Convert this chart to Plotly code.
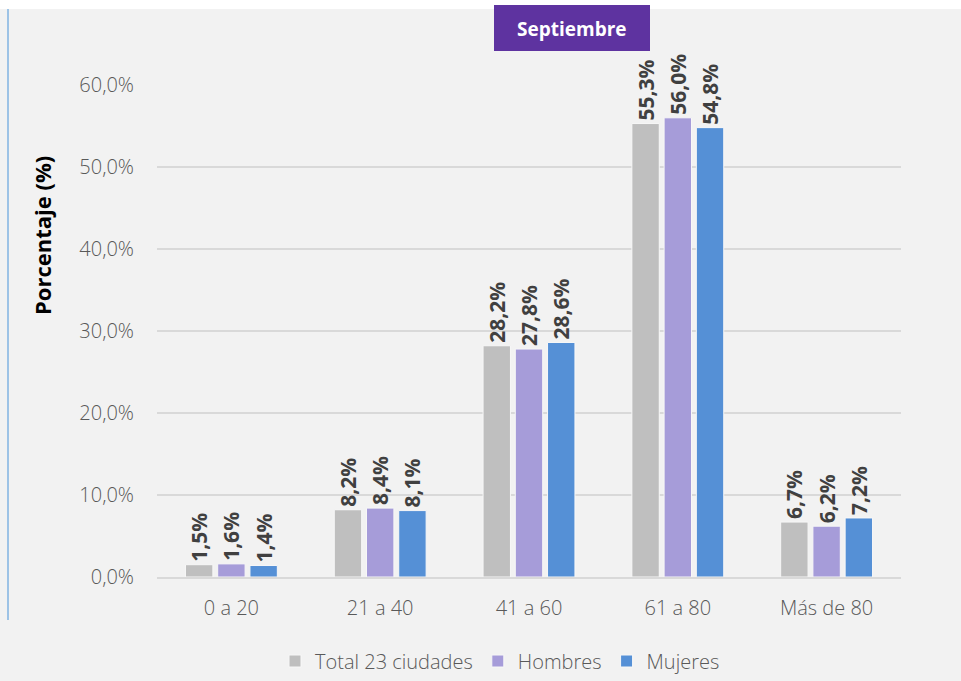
import plotly.graph_objects as go

categories = ["0 a 20", "21 a 40", "41 a 60", "61 a 80", "Más de 80"]
total = [1.5, 8.2, 28.2, 55.3, 6.7]
hombres = [1.6, 8.4, 27.8, 56.0, 6.2]
mujeres = [1.4, 8.1, 28.6, 54.8, 7.2]
series_names = ["Total 23 ciudades", "Hombres", "Mujeres"]
colors = ["#BFBFBF", "#A69CD9", "#5590D6"]
tick_vals = [0, 10, 20, 30, 40, 50, 60]
tick_text = ["0,0%", "10,0%", "20,0%", "30,0%", "40,0%", "50,0%", "60,0%"]

FONT = "Open Sans"

def fmt(v):
    return f"{v:.1f}".replace(".", ",") + "%"

fig = go.Figure()
for name, vals, col in zip(series_names, [total, hombres, mujeres], colors):
    fig.add_trace(go.Bar(
        x=categories, y=vals, name=name,
        marker=dict(color=col, line=dict(color="#f7f7f7", width=1)),
        text=[fmt(v) for v in vals], textposition="outside", textangle=-90,
        constraintext="none", cliponaxis=False,
        textfont=dict(family=FONT, size=21, color="#404040", weight="bold"),
    ))

L, R, T, B = 157, 60, 85, 104
W, H = 961, 681
pw, ph = W - L - R, H - T - B

def px(x):
    return (x - L) / pw

def py(y):
    return (H - B - y) / ph

shapes = [
    dict(type="rect", xref="paper", yref="paper", x0=px(-5), x1=px(W + 5), y0=py(9), y1=py(-5),
         fillcolor="white", line=dict(width=0), layer="below"),
    dict(type="line", xref="paper", yref="paper", x0=px(8), x1=px(8), y0=py(9), y1=py(620),
         line=dict(color="#9DC3E6", width=2)),
    dict(type="rect", xref="paper", yref="paper", x0=px(494), x1=px(650), y0=py(51), y1=py(5),
         fillcolor="#5E33A0", line=dict(width=0)),
]

annotations = [
    dict(text="<b>Septiembre</b>", xref="paper", yref="paper", x=px(572), y=py(29),
         showarrow=False, font=dict(family=FONT, size=19, color="white"),
         xanchor="center", yanchor="middle"),
    dict(text="<b>Porcentaje (%)</b>", xref="paper", yref="paper", x=px(42), y=py(236),
         showarrow=False, textangle=-90, font=dict(family=FONT, size=22, color="black"),
         xanchor="center", yanchor="middle"),
]

fig.update_layout(
    width=W, height=H,
    margin=dict(l=L, r=R, t=T, b=B, pad=0, autoexpand=False),
    paper_bgcolor="#F2F2F2", plot_bgcolor="#F2F2F2",
    barmode="group", bargap=0.35, bargroupgap=0.15,
    font=dict(family=FONT, size=20, color="#595959"),
    shapes=shapes, annotations=annotations,
    showlegend=True,
    legend=dict(orientation="h", x=px(500), y=py(661), xanchor="center", yanchor="middle",
                font=dict(family=FONT, size=20, color="#595959", weight=300),
                bgcolor="rgba(0,0,0,0)", itemwidth=30, tracegroupgap=0),
    xaxis=dict(showgrid=False, showline=True, linecolor="#D9D9D9", linewidth=2,
               ticks="", tickfont=dict(size=20, color="#595959", weight=300),
               ticklabelstandoff=12, automargin=False),
    yaxis=dict(range=[0, 60], tickvals=tick_vals, ticktext=tick_text, showgrid=True,
               gridcolor="#D9D9D9", gridwidth=1.5, zeroline=False, showline=False,
               ticks="", tickfont=dict(size=20, color="#595959", weight=300),
               ticklabelstandoff=22, automargin=False),
)

fig.write_html("out.html", config={"displayModeBar": False},
               post_script="document.body.style.margin='0';")
